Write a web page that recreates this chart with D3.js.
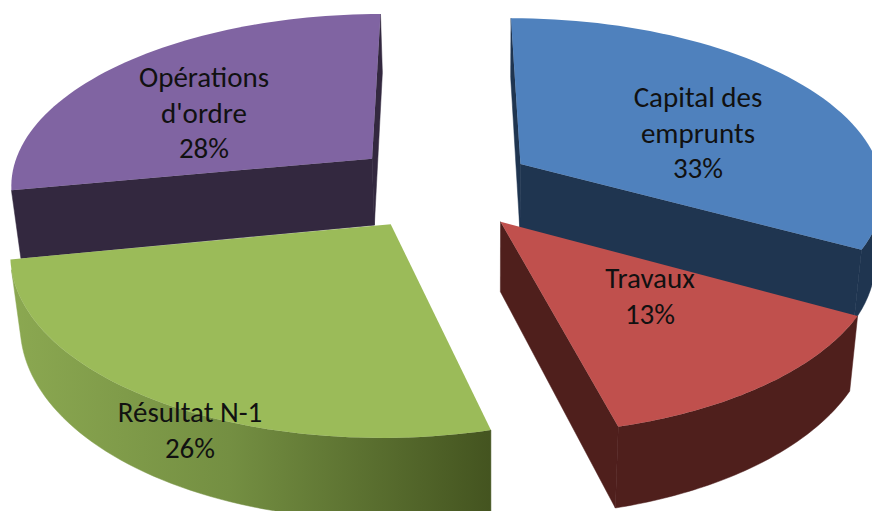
<!DOCTYPE html>
<html>
<head>
<meta charset="utf-8">
<script src="https://cdn.jsdelivr.net/npm/d3@7"></script>
<style>
  html, body { margin: 0; padding: 0; background: #fff; overflow: hidden; }
  text { font-family: Carlito, Lato, "Open Sans", sans-serif; font-size: 29px; fill: #111; }
</style>
</head>
<body>
<div id="chart"></div>
<script>
const categories = ["Capital des emprunts", "Travaux", "Résultat N-1", "Opérations d'ordre"];
const shares = [33, 13, 26, 28];
const labelLines = [["Capital des", "emprunts"], ["Travaux"], ["Résultat N-1"], ["Opérations", "d'ordre"]];
const topColors = ["#4f81bd", "#c0504d", "#9bbb59", "#8064a2"];
const sideColors = ["#1f3550", "#4f1f1c", "#6b8539", "#33283f"];
const faceColors = ["#1f3550", "#4f1f1c", "#4f6129", "#33283f"];

const width = 872, height = 511;

// perspective of the tilted pie
const cam = { cx: 442, cy: 186, fx: 364, fy: 172, k: 0.14, m: 0.02, lean: 1, depth: 68 };
const explode = 0.255;

function project(X, Y, Z) {
  const w = 1 - cam.k * Y;
  return [cam.cx + (cam.fx * X + cam.lean * Z) / (w + cam.m * Z), cam.cy + (cam.fy * Y + cam.depth * Z) / w];
}

const svg = d3.select("#chart").append("svg")
  .attr("width", width)
  .attr("height", height);

const defs = svg.append("defs");
const gradGreen = defs.append("linearGradient")
  .attr("id", "wall-green")
  .attr("gradientUnits", "userSpaceOnUse")
  .attr("x1", 12).attr("x2", 495).attr("y1", 0).attr("y2", 0);
gradGreen.append("stop").attr("offset", 0).attr("stop-color", "#8ba851");
gradGreen.append("stop").attr("offset", 0.45).attr("stop-color", "#748f42");
gradGreen.append("stop").attr("offset", 1).attr("stop-color", "#43531f");

const pie = d3.pie().sort(null).value(d => d);
const arcs = pie(shares);
const line = d3.line();

// blue and purple sit behind, red and green in front
const drawOrder = [3, 0, 2, 1];

drawOrder.forEach(i => {
  const a = arcs[i];
  const mid = (a.startAngle + a.endAngle) / 2;
  const ox = explode * Math.sin(mid), oy = -explode * Math.cos(mid);
  const rim = d3.range(0, 61).map(j => a.startAngle + (a.endAngle - a.startAngle) * j / 60);
  const pt = (r, ang, z) => project(ox + r * Math.sin(ang), oy - r * Math.cos(ang), z);
  const g = svg.append("g").attr("class", "slice");
  const wallFill = i === 2 ? "url(#wall-green)" : sideColors[i];

  // only faces turned to the camera are kept, on a convex slice they never overlap
  const faces = [
    { pts: [pt(0, 0, 0), pt(1, a.startAngle, 0), pt(1, a.startAngle, 1), pt(0, 0, 1)], fill: faceColors[i] },
    { pts: [pt(1, a.endAngle, 0), pt(0, 0, 0), pt(0, 0, 1), pt(1, a.endAngle, 1)], fill: faceColors[i] }
  ].filter(d => d3.polygonArea(d.pts) > 0);

  const seen = d3.pairs(rim).filter(([p, q]) =>
    d3.polygonArea([pt(1, p, 0), pt(1, q, 0), pt(1, q, 1), pt(1, p, 1)]) > 0);
  if (seen.length) {
    const angles = [seen[0][0]].concat(seen.map(d => d[1]));
    faces.push({
      pts: angles.map(ang => pt(1, ang, 0)).concat(angles.slice().reverse().map(ang => pt(1, ang, 1))),
      fill: wallFill
    });
  }

  faces.forEach(d => {
    g.append("path")
      .attr("d", line(d.pts) + "Z")
      .attr("fill", d.fill)
      .attr("stroke", d.fill)
      .attr("stroke-width", 0.5);
  });

  const top = [pt(0, 0, 0)].concat(rim.map(ang => pt(1, ang, 0)));
  g.append("path")
    .attr("d", line(top) + "Z")
    .attr("fill", topColors[i]);
});

// labels sit on top of everything
const labelAt = [[698, 97], [650, 278], [190, 412], [204, 77]];
const lineGap = 35.5;
arcs.forEach((a, i) => {
  const rows = labelLines[i].concat(`${shares[i]}%`);
  rows.forEach((row, r) => {
    svg.append("text")
      .attr("x", labelAt[i][0])
      .attr("y", labelAt[i][1] + r * lineGap)
      .attr("dy", "0.35em")
      .attr("text-anchor", "middle")
      .text(row);
  });
});
</script>
</body>
</html>
